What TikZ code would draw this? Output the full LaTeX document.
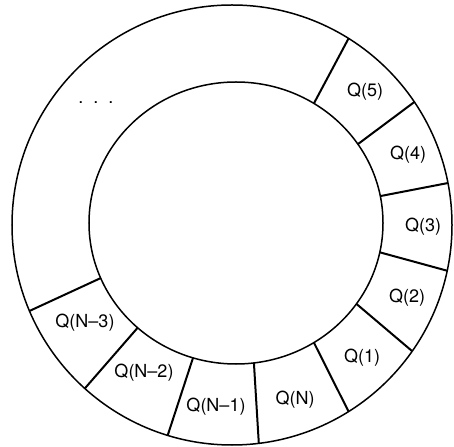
\documentclass[tikz,border=0pt]{standalone}
\usepackage{fontspec}
\setmainfont{TeX Gyre Heros}
\usetikzlibrary{calc}
\tikzset{
	ring/.style={black, line width=1.5pt},
	divider/.style={black, line width=2pt},
	slotlabel/.style={font=\fontsize{18}{21}\selectfont, inner sep=0pt},
}

\begin{document}
\begin{tikzpicture}[x=1pt,y=1pt]
	\useasboundingbox (-232,-221) rectangle (222,225);
	
	% Centres of the two circles
	\coordinate (oc) at (0,0);
	\coordinate (ic) at (4,2);
	
	% Ring
	\draw[ring] (oc) circle[radius=220];
	\draw[ring] (ic) circle[x radius=147, y radius=141];
	
	% Slot boundaries
	\foreach \a in {58,34,11,-12,-35,-58,-83,-107,-132,-157}
		\draw[divider] ($(ic)+(\a:147 and 141)$) -- ($(oc)+(\a:220)$);
	
	% Slot labels
	\node[slotlabel] (q5) at (133,133) {Q(5)};
	\node[slotlabel] (q4) at (176,70) {Q(4)};
	\node[slotlabel] (q3) at (191,-2) {Q(3)};
	\node[slotlabel] (q2) at (175,-73) {Q(2)};
	\node[slotlabel] (q1) at (130,-133) {Q(1)};
	\node[slotlabel] (qn) at (63,-175) {Q(N)};
	\node[slotlabel] (qna) at (-16,-182) {Q(N--1)};
	\node[slotlabel] (qnb) at (-88,-148) {Q(N--2)};
	\node[slotlabel] (qnc) at (-147,-98) {Q(N--3)};
	
	% Remaining slots
	\node[slotlabel] (dots) at (-136,122) {.\hspace{10pt}.\hspace{10pt}.};
	
\end{tikzpicture}
\end{document}
